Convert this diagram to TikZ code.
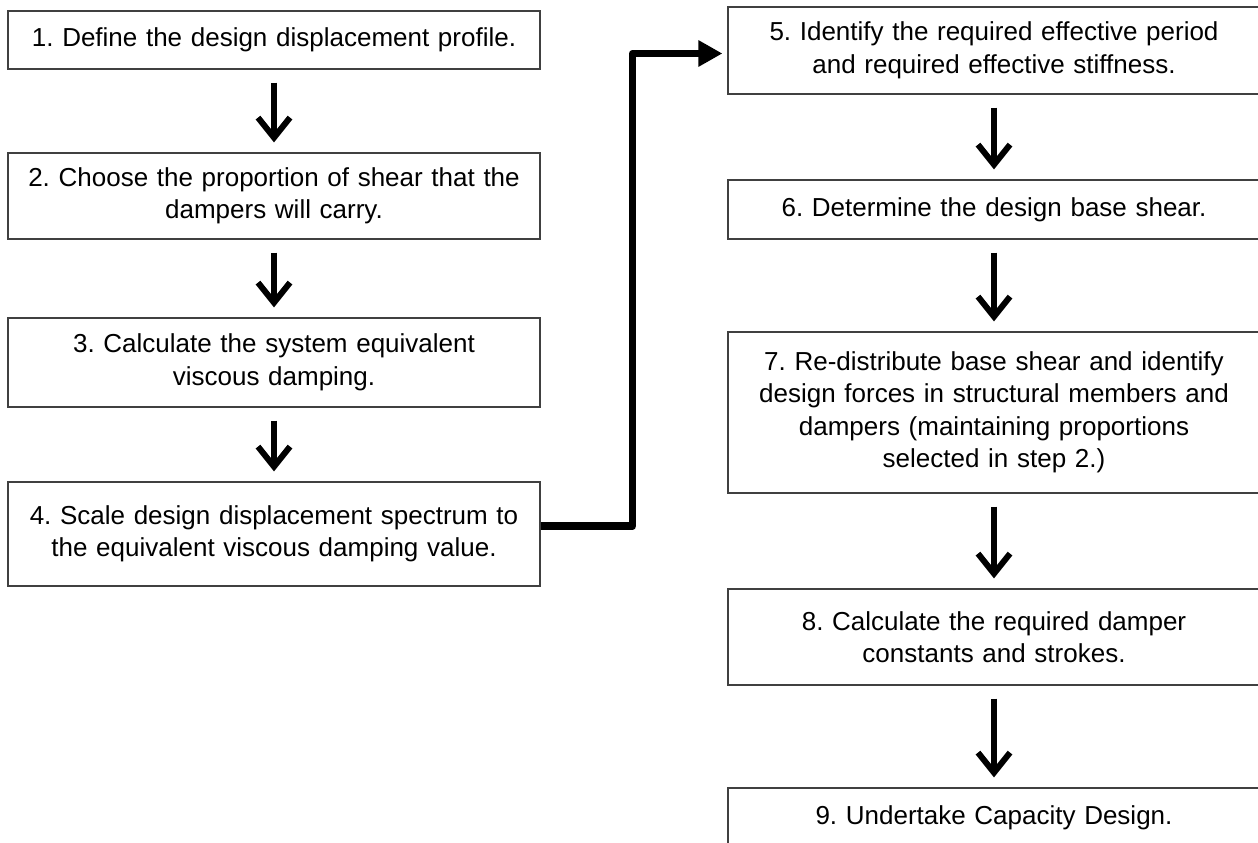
\documentclass[tikz,border=0pt]{standalone}
\usepackage{fontspec}
\setmainfont{Liberation Sans}
\usetikzlibrary{arrows.meta}

\tikzset{
  stepbox/.style={draw=black!75, line width=1.2pt, fill=white, align=center,
    text width=524pt, inner xsep=4pt, inner ysep=0pt,
    font=\fontsize{26}{32.5}\selectfont\frenchspacing},
  downarr/.style={line width=6pt, -{Straight Barb[length=20pt,width=32pt]},
    shorten <=13pt, shorten >=10pt},
  bendarr/.style={line width=7.5pt, line join=round,
    -{Triangle[length=24pt,width=25pt]}, shorten >=5pt}
}

\begin{document}
\begin{tikzpicture}[x=1pt, y=-1pt]
  \useasboundingbox (0,0) rectangle (1258,843);

  % left column
  \node[stepbox, minimum height=58pt]  (s1) at (274,40)    {1. Define the design displacement profile.};
  \node[stepbox, minimum height=86pt]  (s2) at (274,196)   {2. Choose the proportion of shear that the\\dampers will carry.};
  \node[stepbox, minimum height=89pt]  (s3) at (274,362.5) {3. Calculate the system equivalent\\viscous damping.};
  \node[stepbox, minimum height=104pt] (s4) at (274,534)   {4. Scale design displacement spectrum to\\the equivalent viscous damping value.};

  % right column
  \node[stepbox, minimum height=87pt]  (s5) at (994,50.5)  {5. Identify the required effective period\\and required effective stiffness.};
  \node[stepbox, minimum height=59pt]  (s6) at (994,209.5) {6. Determine the design base shear.};
  \node[stepbox, minimum height=161pt] (s7) at (994,412.5) {7. Re-distribute base shear and identify\\design forces in structural members and\\dampers (maintaining proportions\\selected in step 2.)};
  \node[stepbox, minimum height=96pt]  (s8) at (994,637)   {8. Calculate the required damper\\constants and strokes.};
  \node[stepbox, minimum height=60pt]  (s9) at (994,818)   {9. Undertake Capacity Design.};

  \foreach \a/\b in {s1/s2, s2/s3, s3/s4, s5/s6, s6/s7, s7/s8, s8/s9}
    \draw[downarr] (\a.south) -- (\b.north);

  \draw[bendarr] ([yshift=8pt]s4.east) -- ++(92,0) |- ([yshift=-3pt]s5.west);
\end{tikzpicture}
\end{document}
